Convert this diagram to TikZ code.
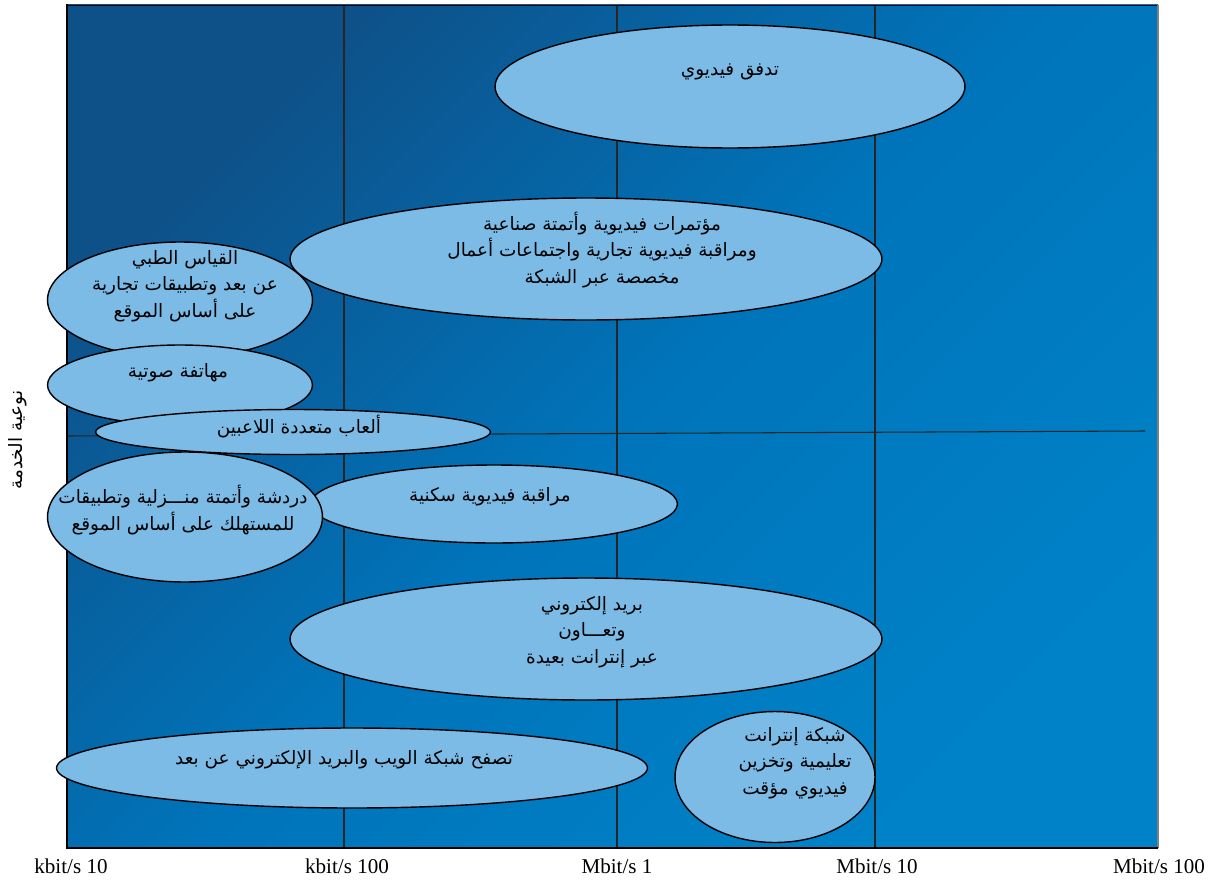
\documentclass[tikz,border=0pt]{standalone}
\usepackage{fontspec}
\setmainfont{Liberation Serif}
\newfontfamily\arabicfont[Script=Arabic]{DejaVu Sans}
\TeXXeTstate=1
\usetikzlibrary{shapes.geometric}
\definecolor{bgdark}{RGB}{14,80,136}
\definecolor{bgmid}{RGB}{0,116,186}
\definecolor{bglight}{RGB}{0,130,200}
\definecolor{bubblefill}{RGB}{123,187,230}
\newcommand{\rl}[1]{\beginR #1\endR}
\tikzset{bubble/.style={ellipse,draw=black,line width=0.8pt,fill=bubblefill,inner sep=0pt},
 lbl/.style={font=\arabicfont\fontsize{10.5}{15}\selectfont,align=center,inner sep=0pt},
 rate/.style={font=\fontsize{12}{14}\selectfont,inner sep=0pt},
 gridline/.style={draw=black!85,line width=0.6pt},
 }

\begin{document}
\begin{tikzpicture}[x=0.02cm,y=-0.02cm]
    \useasboundingbox (0,0) rectangle (1216,882);
    \shade[top color=bgdark,bottom color=bglight,middle color=bgmid,shading angle=45] (67,5) rectangle (1158,847);
    \coordinate (top1) at (344,5);
    \coordinate (bot1) at (344,847);
    \coordinate (top2) at (617,5);
    \coordinate (bot2) at (617,847);
    \coordinate (top3) at (875,5);
    \coordinate (bot3) at (875,847);
    \coordinate (midl) at (67,436);
    \coordinate (midr) at (1145,431);
    \draw[gridline] (top1) -- (bot1);
    \draw[gridline] (top2) -- (bot2);
    \draw[gridline] (top3) -- (bot3);
    \draw[gridline] (midl) -- (midr);
    \draw[line width=0.5pt] (67,5) -- (1158,5);
    \draw[gray,line width=0.6pt] (1158,5) -- (1158,848);
    \draw[line width=1.6pt] (67,4) -- (67,848) -- (1158,848);

    \node[bubble,minimum width=9.4cm,minimum height=2.46cm] (stream) at (730,86.5) {};
    \node[lbl] (streamtxt) at (730,72) {\rl{تدفق فيديوي}};

    \node[bubble,minimum width=11.84cm,minimum height=2.44cm] (conf) at (586,259) {};
    \node[lbl] (conftxt) at (602,250) {\rl{مؤتمرات فيديوية وأتمتة صناعية}\\
        \rl{ومراقبة فيديوية تجارية واجتماعات أعمال}\\
        \rl{مخصصة عبر الشبكة}};

    \node[bubble,minimum width=5.3cm,minimum height=2.32cm] (tele) at (180,300) {};
    \node[lbl] (teletxt) at (185,286) {\rl{القياس الطبي}\\
        \rl{عن بعد وتطبيقات تجارية}\\
        \rl{على أساس الموقع}};

    \node[bubble,minimum width=5.3cm,minimum height=1.6cm] (voice) at (180,385) {};
    \node[lbl] (voicetxt) at (178,373) {\rl{مهاتفة صوتية}};

    \node[bubble,minimum width=7.9cm,minimum height=0.9cm] (game) at (293,432) {};
    \node[lbl] (gametxt) at (299,427) {\rl{ألعاب متعددة اللاعبين}};

    \node[bubble,minimum width=7.34cm,minimum height=1.56cm] (homecam) at (494,504) {};
    \node[lbl] (homecamtxt) at (490,497) {\rl{مراقبة فيديوية سكنية}};

    \node[bubble,minimum width=5.5cm,minimum height=2.6cm] (chat) at (185,517) {};
    \node[lbl] (chattxt) at (183,510) {\rl{دردشة وأتمتة منـــزلية وتطبيقات}\\
        \rl{للمستهلك على أساس الموقع}};

    \node[bubble,minimum width=11.84cm,minimum height=2.44cm] (mail) at (586,639) {};
    \node[lbl] (mailtxt) at (592,632) {\rl{بريد إلكتروني}\\
        \rl{وتعـــاون}\\
        \rl{عبر إنترانت بعيدة}};

    \node[bubble,minimum width=11.82cm,minimum height=1.6cm] (web) at (352,768) {};
    \node[lbl] (webtxt) at (344,760) {\rl{تصفح شبكة الويب والبريد الإلكتروني عن بعد}};

    \node[bubble,minimum width=4cm,minimum height=2.62cm] (intra) at (775,777) {};
    \node[lbl] (intratxt) at (795,763) {\rl{شبكة إنترانت}\\
        \rl{تعليمية وتخزين}\\
        \rl{فيديوي مؤقت}};

    \node[lbl,rotate=90] (quality) at (18,440) {\rl{نوعية الخدمة}};

    \node[rate] (r1) at (71,866) {kbit/s 10};
    \node[rate] (r2) at (347,866) {kbit/s 100};
    \node[rate] (r3) at (617,866) {Mbit/s 1};
    \node[rate] (r4) at (877,866) {Mbit/s 10};
    \node[rate] (r5) at (1159,866) {Mbit/s 100};
\end{tikzpicture}
\end{document}
